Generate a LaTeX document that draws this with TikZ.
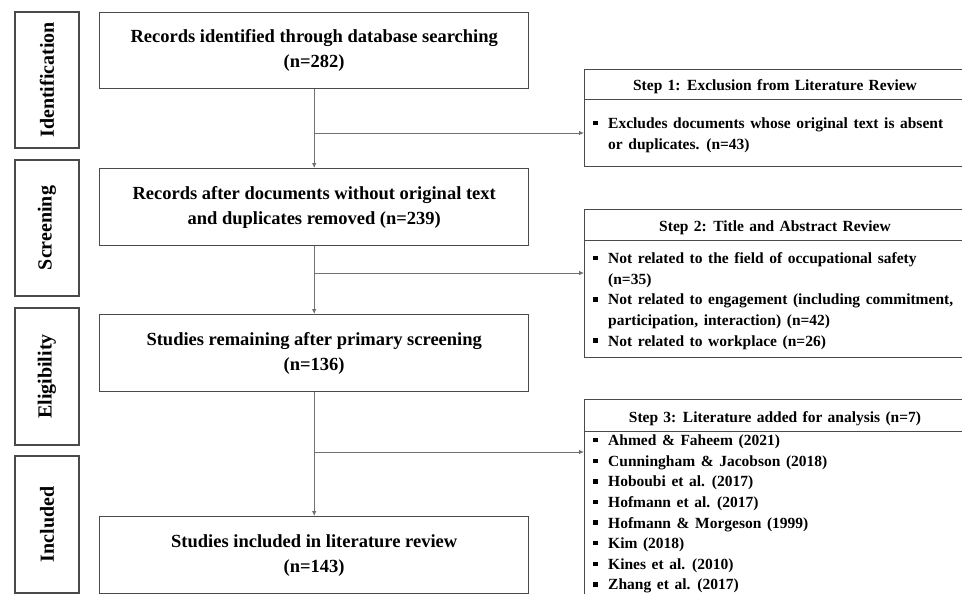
\documentclass[tikz,border=0pt]{standalone}
\usepackage{fontspec}
\setmainfont{Liberation Serif}
\usetikzlibrary{arrows.meta}
\definecolor{boxgray}{HTML}{4A4A4A}
\definecolor{linegray}{HTML}{707070}
\newcommand{\bsq}{\rule[3.2pt]{4.4pt}{4.4pt}}
\newcommand{\headfont}{\fontsize{15.5}{20.6}\selectfont\bfseries\spaceskip=5.3pt plus 1pt minus 0.5pt\relax}
\newcommand{\listfont}{\fontsize{15.5}{20.6}\selectfont\bfseries\spaceskip=5.6pt plus 1pt minus 0.5pt\relax}
\begin{document}
\begin{tikzpicture}[x=1pt,y=-1pt,
  mainbox/.style={draw=boxgray, line width=1.4pt, minimum width=429pt, minimum height=77pt,
    anchor=north west, inner sep=0pt, align=center,
    font=\fontsize{18.5}{25}\selectfont\bfseries},
  stagebox/.style={draw=boxgray, line width=1.4pt, rotate=90, minimum height=64pt,
    inner sep=0pt, font=\fontsize{20}{24}\selectfont\bfseries},
  headbox/.style={draw=boxgray, line width=1.4pt, minimum width=420pt, anchor=north west,
    inner sep=0pt},
  bodybox/.style={draw=boxgray, line width=1.4pt, minimum width=420pt, anchor=north west,
    inner sep=0pt},
  headtext/.style={anchor=base, inner sep=0pt, font=\headfont},
  listtext/.style={anchor=north west, inner sep=0pt, align=left, font=\listfont},
  conn/.style={draw=linegray, line width=0.8pt},
  arr/.style={conn, -{Latex[length=5pt,width=4.5pt]}}
]
\useasboundingbox (0,0) rectangle (962,594);
\clip (0,0) rectangle (962,594);
\fill[white] (0,0) rectangle (962,594);

% stage labels
\node[stagebox, minimum width=136pt] (s1) at (47,80) {Identification};
\node[stagebox, minimum width=136pt] (s2) at (47,228) {Screening};
\node[stagebox, minimum width=137pt] (s3) at (47,376.5) {Eligibility};
\node[stagebox, minimum width=137pt] (s4) at (47,524.5) {Included};

% main boxes
\node[mainbox, minimum height=76pt] (m1) at (99,12) {Records identified through database searching\\(n=282)};
\node[mainbox] (m2) at (99,168) {Records after documents without original text\\and duplicates removed (n=239)};
\node[mainbox] (m3) at (99,314) {Studies remaining after primary screening\\(n=136)};
\node[mainbox] (m4) at (99,516) {Studies included in literature review\\(n=143)};

% right boxes: step 1
\node[headbox, minimum height=30pt] (r1h) at (584,69) {};
\node[bodybox, minimum height=67pt] (r1b) at (584,99) {};
\node[headtext] (r1ht) at (775,91) {Step 1: Exclusion from Literature Review};
\node[listtext] (r1t) at (593,114) {\begin{tabular}{@{}p{10pt}@{\hspace{5pt}}l@{}}
\bsq & Excludes documents whose original text is absent\\
 & or duplicates. (n=43)
\end{tabular}};

% step 2
\node[headbox, minimum height=31pt] (r2h) at (584,209) {};
\node[bodybox, minimum height=117pt] (r2b) at (584,240) {};
\node[headtext] (r2ht) at (775,231) {Step 2: Title and Abstract Review};
\node[listtext] (r2t) at (593,249) {\begin{tabular}{@{}p{10pt}@{\hspace{5pt}}l@{}}
\bsq & Not related to the field of occupational safety\\
 & (n=35)\\
\bsq & Not related to engagement (including commitment,\\
 & participation, interaction) (n=42)\\
\bsq & Not related to workplace (n=26)
\end{tabular}};

% step 3
\node[headbox, minimum height=32pt] (r3h) at (584,399) {};
\node[bodybox, minimum height=170pt] (r3b) at (584,431) {};
\node[headtext] (r3ht) at (775,422) {Step 3: Literature added for analysis (n=7)};
\node[listtext] (r3t) at (593,431) {\begin{tabular}{@{}p{10pt}@{\hspace{5pt}}l@{}}
\bsq & Ahmed \& Faheem (2021)\\
\bsq & Cunningham \& Jacobson (2018)\\
\bsq & Hoboubi et al. (2017)\\
\bsq & Hofmann et al. (2017)\\
\bsq & Hofmann \& Morgeson (1999)\\
\bsq & Kim (2018)\\
\bsq & Kines et al. (2010)\\
\bsq & Zhang et al. (2017)
\end{tabular}};

% connectors
\coordinate (j1) at (313.5,133);
\coordinate (j2) at (313.5,273);
\coordinate (j3) at (313.5,452);
\draw[arr] (m1.south) -- (m2.north);
\draw[arr] (m2.south) -- (m3.north);
\draw[arr] (m3.south) -- (m4.north);
\draw[arr] (j1) -- (j1 -| r1b.west);
\draw[arr] (j2) -- (j2 -| r2b.west);
\draw[arr] (j3) -- (j3 -| r3b.west);
\end{tikzpicture}
\end{document}
